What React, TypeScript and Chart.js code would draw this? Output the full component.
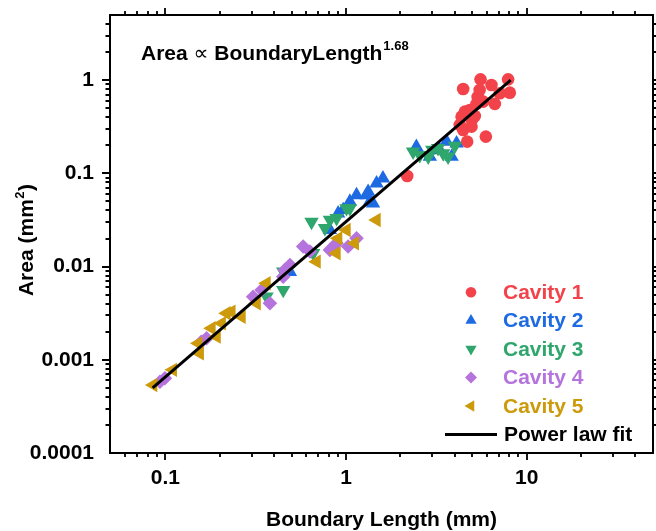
import React, { useEffect, useRef } from 'react';
import { Chart, registerables } from 'chart.js';
import { drawPoint } from 'chart.js/helpers';

Chart.register(...registerables);

const FONT = '"Liberation Sans", Arial, Helvetica, sans-serif';

const seriesNames = ['Cavity 1', 'Cavity 2', 'Cavity 3', 'Cavity 4', 'Cavity 5'];
const seriesColors = ['#f3434a', '#1e6ae2', '#2ea66c', '#b573dd', '#cc9a0b'];
const fitLabel = 'Power law fit';
const annotationA = 'Area ';
const annotationProp = '\u221D';
const annotationB = ' BoundaryLength';
const annotationExp = '1.68';
const xTitle = 'Boundary Length (mm)';
const yTitleMain = 'Area (mm';
const yTitleSup = '2';
const yTitleEnd = ')';

const cavity1X = [4.45, 5.55, 5.49, 6.38, 7.89, 8.06, 7.1, 6.66, 5.74, 5.27, 4.84, 5.16, 4.36, 4.45, 4.95, 4.68, 5.94, 2.18, 4.26, 5.35, 4.55, 4.97];
const cavity1Y = [0.805, 1.02, 0.785, 0.888, 1.02, 0.734, 0.723, 0.556, 0.588, 0.556, 0.479, 0.413, 0.406, 0.292, 0.317, 0.219, 0.248, 0.0938, 0.331, 0.66, 0.46, 0.374];

const cavity2X = [1.6, 1.475, 1.325, 1.143, 1.05, 0.964, 0.904, 0.814, 1.354, 1.3, 1.41, 0.489, 2.45, 2.91, 3.6, 4.09, 3.84, 3.3];
const cavity2Y = [0.0886, 0.0783, 0.0636, 0.0586, 0.0497, 0.0405, 0.0373, 0.0247, 0.0497, 0.0586, 0.0478, 0.0088, 0.193, 0.151, 0.219, 0.21, 0.151, 0.178];

const cavity3X = [0.644, 0.764, 0.886, 1.006, 0.814, 1.05, 0.449, 0.363, 0.449, 0.658, 2.35, 2.56, 2.85, 3.23, 3.45, 3.67, 4.0, 3.0];
const cavity3Y = [0.0301, 0.0258, 0.033, 0.0422, 0.0316, 0.0422, 0.0056, 0.00475, 0.0088, 0.0139, 0.171, 0.157, 0.151, 0.186, 0.164, 0.151, 0.197, 0.178];

const cavity4X = [0.579, 0.631, 0.489, 0.458, 0.379, 0.306, 0.341, 0.814, 0.886, 1.027, 1.143, 0.169, 0.158, 0.0994, 0.0933, 0.449];
const cavity4Y = [0.0164, 0.0145, 0.0104, 0.0092, 0.00404, 0.00475, 0.0056, 0.0151, 0.0178, 0.0164, 0.0201, 0.0017, 0.00156, 0.000634, 0.000582, 0.0078];

const cavity5X = [1.475, 1.006, 0.904, 0.886, 1.119, 0.687, 0.363, 0.32, 0.232, 0.218, 0.264, 0.205, 0.18, 0.152, 0.155, 0.11, 0.0856, 0.192];
const cavity5Y = [0.0316, 0.0247, 0.0201, 0.0139, 0.0178, 0.0113, 0.00662, 0.00404, 0.00328, 0.00316, 0.0029, 0.00246, 0.00218, 0.0015, 0.00117, 0.00078, 0.000537, 0.00177];

const fitX = [0.085, 8.15];
const fitY = [0.0005, 1.0];

const xMin = 0.05;
const xMax = 50;
const yMin = 0.0001;
const yMax = 5;
const xMajorTicks = [0.1, 1, 10];
const xTickLabels = ['0.1', '1', '10'];
const yMajorTicks = [0.0001, 0.001, 0.01, 0.1, 1];
const yTickLabels = ['0.0001', '0.001', '0.01', '0.1', '1'];

const seriesX = [cavity1X, cavity2X, cavity3X, cavity4X, cavity5X];
const seriesY = [cavity1Y, cavity2Y, cavity3Y, cavity4Y, cavity5Y];
const seriesStyles = [
  { pointStyle: 'circle', rotation: 0, radius: 6.3, legendRadius: 5.3 },
  { pointStyle: 'triangle', rotation: 0, radius: 8.3, legendRadius: 6.5 },
  { pointStyle: 'triangle', rotation: 180, radius: 8.3, legendRadius: 6.5 },
  { pointStyle: 'rectRot', rotation: 0, radius: 7.3, legendRadius: 6 },
  { pointStyle: 'triangle', rotation: 270, radius: 8.3, legendRadius: 6.5 },
];

function logTicks(min: number, max: number) {
  const out: { v: number; major: boolean }[] = [];
  for (let e = Math.floor(Math.log10(min)); e <= Math.ceil(Math.log10(max)); e++) {
    for (let m = 1; m <= 9; m++) {
      const v = m * Math.pow(10, e);
      if (v >= min * 0.9999 && v <= max * 1.0001) out.push({ v, major: m === 1 });
    }
  }
  return out;
}

function labelFor(value: number, majors: number[], labels: string[]) {
  const i = majors.findIndex((t) => Math.abs(Math.log10(value) - Math.log10(t)) < 1e-6);
  return i >= 0 ? labels[i] : '';
}

const axesPlugin = {
  id: 'boxAxes',
  afterDatasetsDraw(chart: any) {
    const { ctx, chartArea, scales } = chart;
    const { left, right, top, bottom } = chartArea;
    const xs = scales.x;
    const ys = scales.y;
    const L = left - 1;
    ctx.save();
    ctx.strokeStyle = '#000';
    ctx.lineWidth = 2;
    ctx.beginPath();
    ctx.rect(L, top, right - L, bottom - top);
    ctx.stroke();
    ctx.lineWidth = 1.8;
    ctx.beginPath();
    for (const t of logTicks(xMin, xMax)) {
      const px = Math.round(xs.getPixelForValue(t.v));
      const len = t.major ? 7 : 4;
      if (px <= L + 1 || px >= right - 1) continue;
      ctx.moveTo(px, bottom);
      ctx.lineTo(px, bottom + len);
      ctx.moveTo(px, top);
      ctx.lineTo(px, top - len);
    }
    for (const t of logTicks(yMin, yMax)) {
      const py = Math.round(ys.getPixelForValue(t.v));
      const len = t.major ? 8 : 4.5;
      if (py <= top + 1 || py >= bottom - 1) continue;
      ctx.moveTo(L, py);
      ctx.lineTo(L - len, py);
      ctx.moveTo(right, py);
      ctx.lineTo(right + len, py);
    }
    ctx.stroke();
    ctx.restore();
  },
  afterDraw(chart: any) {
    const { ctx, chartArea } = chart;
    const { left, right, top, bottom } = chartArea;
    ctx.save();
    // annotation
    ctx.fillStyle = '#000';
    ctx.textBaseline = 'alphabetic';
    ctx.textAlign = 'left';
    let ax = 141;
    ctx.font = `bold 21px ${FONT}`;
    ctx.fillText(annotationA, ax, 60);
    ax += ctx.measureText(annotationA).width;
    ctx.font = `21px "DejaVu Sans", sans-serif`;
    ctx.fillText(annotationProp, ax, 60);
    ax += ctx.measureText(annotationProp).width;
    ctx.font = `bold 21px ${FONT}`;
    ctx.fillText(annotationB, ax, 60);
    ax += ctx.measureText(annotationB).width;
    ctx.font = `bold 13px ${FONT}`;
    ctx.fillText(annotationExp, ax + 1, 50);

    // x title
    ctx.font = `bold 21px ${FONT}`;
    ctx.textAlign = 'center';
    ctx.fillText(xTitle, (left - 1 + right) / 2, 525.5);

    // y title
    ctx.save();
    ctx.translate(33, (top + bottom) / 2 + 6);
    ctx.rotate(-Math.PI / 2);
    ctx.textAlign = 'left';
    ctx.font = `bold 21px ${FONT}`;
    const w1 = ctx.measureText(yTitleMain).width;
    const w3 = ctx.measureText(yTitleEnd).width;
    ctx.font = `bold 13px ${FONT}`;
    const w2 = ctx.measureText(yTitleSup).width;
    let sx = -(w1 + w2 + w3 + 1) / 2;
    ctx.font = `bold 21px ${FONT}`;
    ctx.fillText(yTitleMain, sx, 0);
    sx += w1 + 0.5;
    ctx.font = `bold 13px ${FONT}`;
    ctx.fillText(yTitleSup, sx, -9);
    sx += w2 + 0.5;
    ctx.font = `bold 21px ${FONT}`;
    ctx.fillText(yTitleEnd, sx, 0);
    ctx.restore();

    // legend
    const rowY = [292.3, 320.5, 349, 377.5, 406, 434.5];
    const markerX = 471;
    const textX = 503;
    ctx.textAlign = 'left';
    ctx.textBaseline = 'middle';
    ctx.font = `bold 21px ${FONT}`;
    for (let i = 0; i < seriesNames.length; i++) {
      const st = seriesStyles[i];
      ctx.fillStyle = seriesColors[i];
      drawPoint(ctx, { pointStyle: st.pointStyle as any, rotation: st.rotation, radius: st.legendRadius, borderWidth: 0 }, markerX, rowY[i]);
      ctx.fillStyle = seriesColors[i];
      ctx.fillText(seriesNames[i], textX, rowY[i] + 1);
    }
    ctx.strokeStyle = '#000';
    ctx.lineWidth = 3;
    ctx.beginPath();
    ctx.moveTo(445, rowY[5]);
    ctx.lineTo(497, rowY[5]);
    ctx.stroke();
    ctx.fillStyle = '#000';
    ctx.fillText(fitLabel, 504, rowY[5] + 1);
    ctx.restore();
  },
};

function zeroPadding(s: any) {
  s.paddingLeft = 0;
  s.paddingRight = 0;
  s.paddingTop = 0;
  s.paddingBottom = 0;
}

export default function App() {
  const canvasRef = useRef<HTMLCanvasElement | null>(null);

  useEffect(() => {
    const canvas = canvasRef.current;
    if (!canvas) return;
    const datasets: any[] = seriesNames.map((name, i) => ({
      label: name,
      data: seriesX[i].map((x, j) => ({ x, y: seriesY[i][j] })),
      pointStyle: seriesStyles[i].pointStyle,
      rotation: seriesStyles[i].rotation,
      pointRadius: seriesStyles[i].radius,
      pointBackgroundColor: seriesColors[i],
      backgroundColor: seriesColors[i],
      pointBorderWidth: 0,
      borderWidth: 0,
      showLine: false,
      order: 10 - i,
    }));
    datasets.push({
      label: fitLabel,
      data: fitX.map((x, j) => ({ x, y: fitY[j] })),
      showLine: true,
      borderColor: '#000',
      borderWidth: 3,
      pointRadius: 0,
      order: 0,
    });

    const chart = new Chart(canvas, {
      type: 'scatter',
      data: { datasets },
      options: {
        responsive: false,
        devicePixelRatio: 1,
        animation: false,
        layout: { autoPadding: false, padding: { top: 15, right: 3, left: 0, bottom: 0 } },
        plugins: { legend: { display: false }, tooltip: { enabled: false } },
        scales: {
          x: {
            type: 'logarithmic',
            min: xMin,
            max: xMax,
            border: { display: false },
            grid: { display: false, drawTicks: false },
            ticks: {
              autoSkip: false,
              maxRotation: 0,
              padding: 13,
              color: '#000',
              font: { family: FONT, size: 21, weight: 'bold' },
              callback: (v: any) => labelFor(Number(v), xMajorTicks, xTickLabels),
            },
            afterFit: (s: any) => {
              s.height = 78;
              zeroPadding(s);
            },
          },
          y: {
            type: 'logarithmic',
            min: yMin,
            max: yMax,
            border: { display: false },
            grid: { display: false, drawTicks: false },
            ticks: {
              autoSkip: false,
              padding: 17,
              color: '#000',
              font: { family: FONT, size: 21, weight: 'bold' },
              callback: (v: any) => labelFor(Number(v), yMajorTicks, yTickLabels),
            },
            afterFit: (s: any) => {
              s.width = 111;
              zeroPadding(s);
            },
          },
        },
      } as any,
      plugins: [axesPlugin],
    });
    return () => chart.destroy();
  }, []);

  return (
    <div style={{ position: 'absolute', left: 0, top: 0, width: 656, height: 531, background: '#fff' }}>
      <canvas ref={canvasRef} width={656} height={531} style={{ display: 'block', width: 656, height: 531 }} />
    </div>
  );
}
